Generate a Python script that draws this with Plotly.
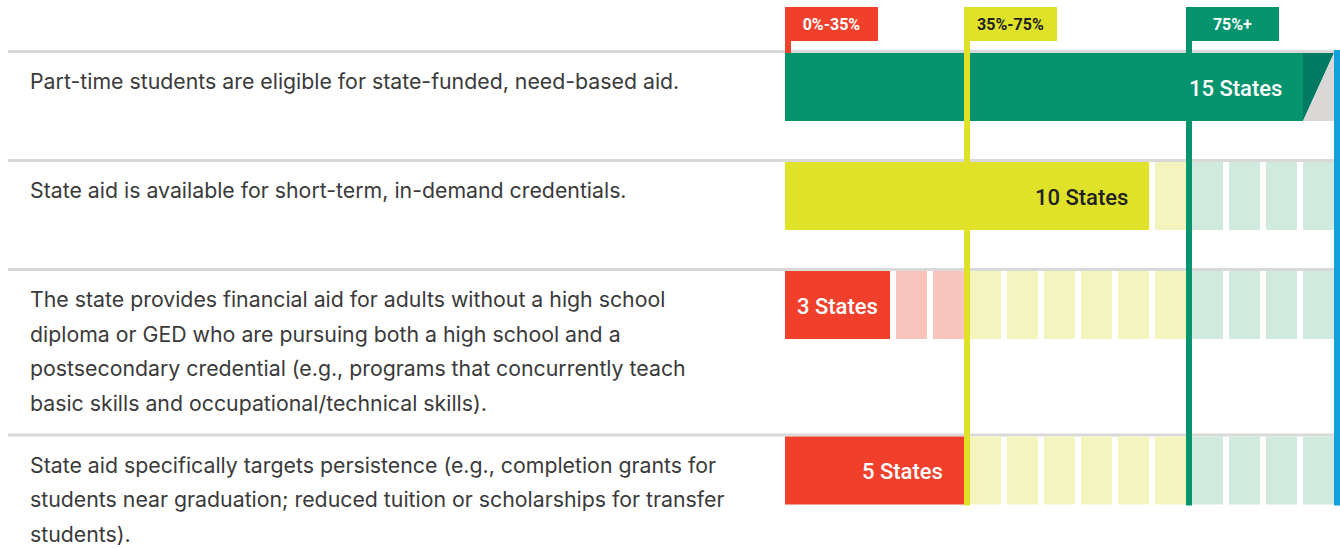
import plotly.graph_objects as go

# ---------------- data ----------------
statements = [
    ["Part-time students are eligible for state-funded, need-based aid."],
    ["State aid is available for short-term, in-demand credentials."],
    ["The state provides financial aid for adults without a high school",
     "diploma or GED who are pursuing both a high school and a",
     "postsecondary credential (e.g., programs that concurrently teach",
     "basic skills and occupational/technical skills)."],
    ["State aid specifically targets persistence (e.g., completion grants for",
     "students near graduation; reduced tuition or scholarships for transfer",
     "students)."],
]
state_counts = [15, 10, 3, 5]
total_cells = 15
zone_labels = ["0%-35%", "35%-75%", "75%+"]
zone_start_cells = [0, 5, 11]
bar_suffix = "States"

# ---------------- styling ----------------
W, H = 1340, 548
X0 = 785          # px where the cell grid starts
PITCH = 37        # px per cell (cell + gap)
GAP = 6           # px gap between cells
CELL = (PITCH - GAP) / PITCH
BAR_H = 68
FIRST_TOP = 53
LINE_PITCH = 34.5
TEXT_OFF = 28

strong = ["#f0402b", "#e0e22a", "#05946e"]
light = ["#f9c4bc", "#f4f5be", "#d0ebdd"]
label_text = ["#ffffff", "#222222", "#ffffff"]
fold_dark = "#007a63"
fold_grey = "#d9d8d6"
blue = "#10a1dd"
sep_grey = "#d9d9d9"
text_col = "#3a3a3a"
FONT = "Roboto"
BODY_FONT = "Inter"


def u(px):
    return (px - X0) / PITCH


def zone_of(k):
    z = 0
    for i, s in enumerate(zone_start_cells):
        if k >= s:
            z = i
    return z


# row tops
tops = []
t = FIRST_TOP
for lines in statements:
    tops.append(t)
    t += max(BAR_H + 41, TEXT_OFF + (len(lines) - 1) * LINE_PITCH + 34)
bottom = tops[-1] + BAR_H + 1

fig = go.Figure()
shapes = []
annotations = []

for r, (lines, n) in enumerate(zip(statements, state_counts)):
    top = tops[r]
    yc = top + BAR_H / 2
    # separator
    shapes.append(dict(type="rect", xref="paper", yref="y", x0=8 / W, x1=1,
                       y0=top - 3, y1=top, fillcolor=sep_grey, line_width=0,
                       layer="below"))
    # statement text
    for i, ln in enumerate(lines):
        annotations.append(dict(xref="paper", yref="y", x=28 / W,
                                y=top + TEXT_OFF + i * LINE_PITCH,
                                xanchor="left", yanchor="middle", text=ln,
                                showarrow=False,
                                font=dict(family=BODY_FONT, size=21.3, color=text_col)))
    # empty cells
    ks = list(range(n, total_cells))
    if ks:
        fig.add_trace(go.Bar(orientation="h", y=[yc] * len(ks),
                             x=[CELL] * len(ks), base=ks,
                             width=[BAR_H] * len(ks),
                             marker=dict(color=[light[zone_of(k)] for k in ks],
                                         line_width=0),
                             hoverinfo="skip"))
    z = zone_of(n - 1)
    if n >= total_cells:
        bar_len = n - 1
    else:
        bar_len = n - GAP / PITCH
    fig.add_trace(go.Bar(orientation="h", y=[yc], x=[bar_len], base=[0],
                         width=[BAR_H],
                         marker=dict(color=strong[z], line_width=0),
                         hoverinfo="skip"))
    if n >= total_cells:
        k = n - 1
        fig.add_trace(go.Scatter(x=[k, k + CELL, k, k], y=[top, top, top + BAR_H, top],
                                 fill="toself", fillcolor=fold_dark, mode="lines",
                                 line=dict(width=0, color=fold_dark), hoverinfo="skip"))
        fig.add_trace(go.Scatter(x=[k + CELL, k + CELL, k, k + CELL],
                                 y=[top, top + BAR_H, top + BAR_H, top],
                                 fill="toself", fillcolor=fold_grey, mode="lines",
                                 line=dict(width=0, color=fold_grey), hoverinfo="skip"))
    if bar_len * PITCH < 130:
        tx, anchor = bar_len / 2, "center"
    else:
        tx, anchor = bar_len - 19 / PITCH, "right"
    annotations.append(dict(x=tx, y=yc + 1, xanchor=anchor,
                            yanchor="middle", text=f"{n} {bar_suffix}",
                            showarrow=False,
                            font=dict(family=FONT, size=22, weight=500,
                                      color=label_text[z])))

# zone marker lines and labels
LABEL_TOP, LABEL_BOTTOM = 7, 41
for i, (lab, s) in enumerate(zip(zone_labels, zone_start_cells)):
    left = s - GAP / PITCH if s > 0 else 0
    xc = left + (GAP / 2) / PITCH
    y_end = tops[0] if s == 0 else bottom
    fig.add_trace(go.Scatter(x=[xc, xc], y=[LABEL_BOTTOM - 1, y_end], mode="lines",
                             line=dict(color=strong[i], width=GAP),
                             hoverinfo="skip"))
    annotations.append(dict(x=left, y=LABEL_TOP, xanchor="left", yanchor="top",
                            text=f"<b>{lab}</b>", showarrow=False,
                            width=93, height=LABEL_BOTTOM - LABEL_TOP,
                            bgcolor=strong[i], borderpad=0, borderwidth=0,
                            align="center", valign="middle",
                            font=dict(family=FONT, size=16, color=label_text[i])))

# right edge (100%) line
xb = total_cells - (GAP / 2) / PITCH
fig.add_trace(go.Scatter(x=[xb, xb], y=[tops[0] - 3, bottom], mode="lines",
                         line=dict(color=blue, width=GAP), hoverinfo="skip"))

fig.update_layout(
    width=W, height=H, margin=dict(l=0, r=0, t=0, b=0),
    paper_bgcolor="white", plot_bgcolor="white",
    barmode="overlay", showlegend=False, hovermode=False,
    xaxis=dict(range=[u(0), u(W)], visible=False, fixedrange=True),
    yaxis=dict(range=[H, 0], visible=False, fixedrange=True),
    shapes=shapes, annotations=annotations,
)

fig.write_html("out.html", config={"displayModeBar": False},
               post_script="document.body.style.margin='0';document.body.style.overflow='hidden';")
